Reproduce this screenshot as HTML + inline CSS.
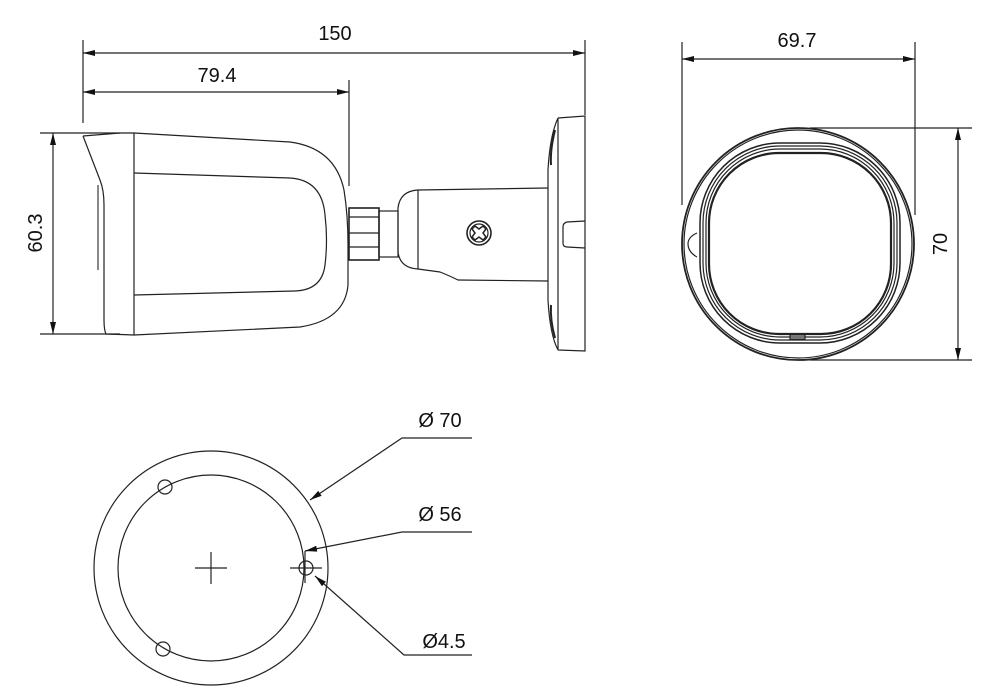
<!DOCTYPE html>
<html><head><meta charset="utf-8"><style>
html,body{margin:0;padding:0;background:#fff;}
svg{display:block;}
text{font-family:"Liberation Sans",Arial,sans-serif;fill:#111;}
</style></head><body>
<svg width="1000" height="698" viewBox="0 0 1000 698" xmlns="http://www.w3.org/2000/svg">
<defs>
<marker id="a" viewBox="0 0 12 6" refX="12" refY="3" markerWidth="12" markerHeight="6" markerUnits="userSpaceOnUse" orient="auto-start-reverse">
<path d="M0,0 L12,3 L0,6 z" fill="#111"/></marker>
</defs>
<g stroke="#222" stroke-width="1.2" fill="none">
<line x1="83" y1="40" x2="83" y2="123"/>
<line x1="585" y1="40" x2="585" y2="115"/>
<line x1="349" y1="80" x2="349" y2="186"/>
<line x1="83" y1="53" x2="585" y2="53" marker-start="url(#a)" marker-end="url(#a)"/>
<line x1="83" y1="92" x2="349" y2="92" marker-start="url(#a)" marker-end="url(#a)"/>
<line x1="40" y1="133" x2="120" y2="133"/>
<line x1="40" y1="334" x2="120" y2="334"/>
<line x1="53" y1="133" x2="53" y2="334" marker-start="url(#a)" marker-end="url(#a)"/>
<path d="M83,136 L120,133 L134,133 M83,136 L100,180 Q104,190 104,205 L104,320 Q104,330 106,334 L134,335"/>
<path d="M98,185 L98,270" stroke-width="2" stroke="#888"/>
<line x1="134" y1="133" x2="134" y2="335"/>
<path d="M134,133 L290,142 Q335,148 344,190 Q348,215 348,245 L348,285 Q345,320 300,327 L134,335"/>
<path d="M134,173 L290,178 Q322,180 325,215 Q328,240 325,265 Q322,290 295,291 L134,295"/>
<rect x="349" y="208" width="30" height="52" stroke-width="1.6"/>
<line x1="349" y1="217" x2="379" y2="217"/><line x1="349" y1="233" x2="379" y2="233"/><line x1="349" y1="247" x2="379" y2="247"/>
<rect x="379" y="211" width="19" height="46"/>
<path d="M418,190 L548,188 M418,190 Q400,191 398,208 L398,252 Q400,268 418,269 L440,272 Q450,276 458,280 L548,281"/>
<line x1="418" y1="190" x2="418" y2="269"/>
<circle cx="479" cy="233" r="12" stroke-width="1.6"/>
<circle cx="479" cy="233" r="9"/>
<path d="M472,229 L475,226 L479,229 L483,226 L486,229 L483,233 L486,237 L483,240 L479,237 L475,240 L472,237 L475,233 z" stroke-width="1.5"/>
<path d="M558,118 L585,116 L585,351 L558,350 M558,118 L558,350 M558,118 Q550,135 548,170 L548,300 Q550,335 558,350"/>
<path d="M555,130 Q550,150 551,165" stroke-width="2"/>
<path d="M551,305 Q550,320 555,338" stroke-width="2"/>
<path d="M585,221 L567,222 Q563,223 563,227 L563,243 Q563,247 567,247 L585,248"/>
<line x1="682" y1="42" x2="682" y2="205"/>
<line x1="915" y1="42" x2="915" y2="215"/>
<line x1="682" y1="59" x2="915" y2="59" marker-start="url(#a)" marker-end="url(#a)"/>
<line x1="810" y1="128" x2="972" y2="128"/>
<line x1="810" y1="360" x2="972" y2="360"/>
<line x1="958" y1="128" x2="958" y2="360" marker-start="url(#a)" marker-end="url(#a)"/>
<circle cx="798" cy="244" r="116" stroke-width="1.8"/>
<circle cx="798" cy="244" r="114"/>
<rect x="700" y="143" width="200" height="200" rx="80" stroke-width="1.5"/>
<rect x="703" y="146" width="194" height="194" rx="77"/>
<rect x="706" y="149" width="188" height="188" rx="74"/>
<rect x="709" y="153" width="182" height="181" rx="70" stroke-width="2.2"/>
<path d="M697,233 Q688,237 688,244 Q688,252 697,257"/>
<rect x="790" y="335" width="15" height="4"/>
<circle cx="211" cy="568" r="117"/>
<circle cx="211" cy="568" r="93"/>
<circle cx="165" cy="487" r="7"/>
<circle cx="163" cy="649" r="7"/>
<circle cx="306" cy="568" r="7"/>
<line x1="195" y1="568" x2="227" y2="568"/>
<line x1="211" y1="552" x2="211" y2="584"/>
<line x1="290" y1="568" x2="322" y2="568"/>
<line x1="305" y1="551" x2="305" y2="583"/>
<path d="M472,438 L402,438 L310,500" marker-end="url(#a)"/>
<path d="M472,532 L402,532 L305,551" marker-end="url(#a)"/>
<path d="M472,655 L404,655 L315,576" marker-end="url(#a)"/>
</g>
<text x="335" y="40" font-size="20" text-anchor="middle">150</text>
<text x="217" y="82" font-size="20" text-anchor="middle">79.4</text>
<text x="797" y="47" font-size="20" text-anchor="middle">69.7</text>
<text transform="translate(42,233) rotate(-90)" font-size="20" text-anchor="middle">60.3</text>
<text transform="translate(947,244) rotate(-90)" font-size="20" text-anchor="middle">70</text>
<text x="440" y="427" font-size="20" text-anchor="middle">Ø 70</text>
<text x="440" y="521" font-size="20" text-anchor="middle">Ø 56</text>
<text x="444" y="648" font-size="20" text-anchor="middle">Ø4.5</text>
</svg>
</body></html>
